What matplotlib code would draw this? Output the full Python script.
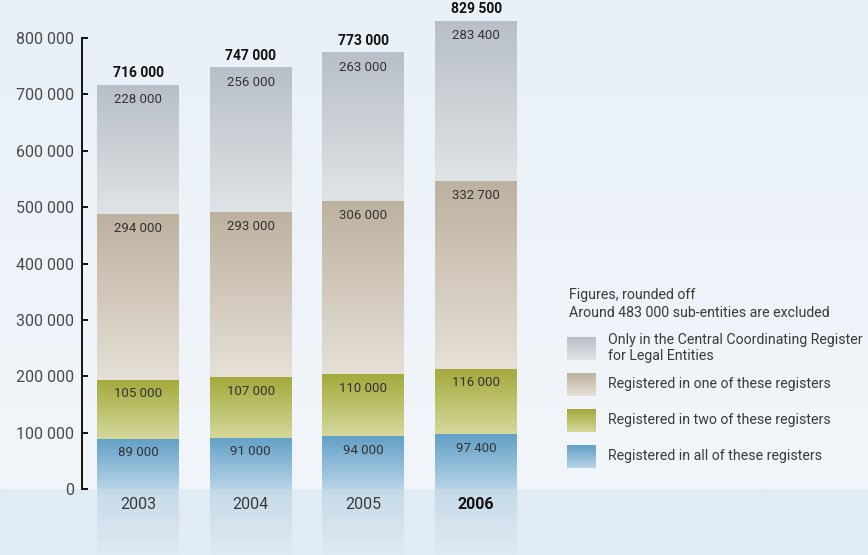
import matplotlib
matplotlib.use('Agg')
import matplotlib.pyplot as plt
import numpy as np
from matplotlib.colors import to_rgb

plt.rcParams['font.family'] = ['Roboto', 'DejaVu Sans']

years = ['2003', '2004', '2005', '2006']
in_all = [89000, 91000, 94000, 97400]
in_two = [105000, 107000, 110000, 116000]
in_one = [294000, 293000, 306000, 332700]
only_ccr = [228000, 256000, 263000, 283400]
totals = [716000, 747000, 773000, 829500]

series_labels = [
    'Registered in all of these registers',
    'Registered in two of these registers',
    'Registered in one of these registers',
    'Only in the Central Coordinating Register\nfor Legal Entities',
]
series_values = [in_all, in_two, in_one, only_ccr]
# (top colour, bottom colour) of each vertical gradient
series_colors = [
    ('#62a0c6', '#b7d4e6'),
    ('#a3a93a', '#d5d89c'),
    ('#bdb19f', '#e6e0d7'),
    ('#b8bfc7', '#e0e3e6'),
]

W, H = 868, 555


def gradient(top, bottom, n=256):
    t = np.linspace(0, 1, n)[:, None]
    c = (1 - t) * np.array(to_rgb(top)) + t * np.array(to_rgb(bottom))
    return c[:, None, :]


def fmt(v):
    return f'{v:,}'.replace(',', ' ')


fig = plt.figure(figsize=(W / 100, H / 100), dpi=100)

# background layer in pixel coordinates
bg = fig.add_axes([0, 0, 1, 1], zorder=0)
bg.axis('off')
bg.imshow(gradient('#e8f0f8', '#f2f6fa'), extent=(0, W, 489, 0), aspect='auto', origin='upper')
bg.imshow(gradient('#e1ebf4', '#e3edf5'), extent=(0, W, H, 489), aspect='auto', origin='upper')
bg.set_xlim(0, W)
bg.set_ylim(H, 0)

x = np.arange(len(years))
bar_w = 0.727
xlim = (-0.497, 6.478)

# band below the axis with faded bar columns and year labels
band = fig.add_axes([82 / W, 0, 786 / W, 66 / H], zorder=1)
band.axis('off')
for i, yr in enumerate(years):
    band.imshow(gradient('#c5dae8', '#e0eaf3'),
                extent=(x[i] - bar_w / 2, x[i] + bar_w / 2, 0, 1),
                aspect='auto', origin='upper')
    band.text(x[i], 0.758, yr, ha='center', va='center', fontsize=11.5,
              color='#111111' if yr == '2006' else '#3a3a3a',
              fontweight='bold' if yr == '2006' else 'normal')
band.set_xlim(*xlim)
band.set_ylim(0, 1)

# main chart
ax = fig.add_axes([82 / W, 66 / H, 786 / W, 451 / H], zorder=2)
ax.patch.set_visible(False)
bottom = np.zeros(len(years))
for vals, (c_top, c_bot) in zip(series_values, series_colors):
    bars = ax.bar(x, vals, bar_w, bottom=bottom, facecolor='none', edgecolor='none')
    for b, v, b0 in zip(bars, vals, bottom):
        im = ax.imshow(gradient(c_top, c_bot),
                       extent=(b.get_x(), b.get_x() + b.get_width(), b0, b0 + v),
                       aspect='auto', origin='upper')
        im.set_clip_on(False)
        ax.annotate(fmt(v), (b.get_x() + b.get_width() / 2, b0 + v),
                    xytext=(0, -10.2), textcoords='offset points',
                    ha='center', va='center', fontsize=9.5, color='#333333',
                    annotation_clip=False)
    bottom = bottom + np.array(vals)

for i, t in enumerate(totals):
    ax.annotate(fmt(t), (x[i], t), xytext=(0, 8.8), textcoords='offset points',
                ha='center', va='center', fontsize=10, fontweight='bold',
                color='#111111', annotation_clip=False)

ax.set_xlim(*xlim)
ax.set_ylim(0, 800000)
ax.set_yticks(np.arange(0, 800001, 100000))
ax.set_yticklabels([fmt(v) for v in range(0, 800001, 100000)])
ax.set_xticks([])
for s in ['top', 'right', 'bottom']:
    ax.spines[s].set_visible(False)
ax.spines['left'].set_linewidth(1.3)
ax.tick_params(axis='y', direction='in', length=4.6, width=1.3,
               pad=5.8, labelsize=11.5, labelcolor='#4a4a4a')

# legend drawn in pixel coordinates
lg = fig.add_axes([0, 0, 1, 1], zorder=3)
lg.patch.set_visible(False)
lg.axis('off')
lg.text(569, 295, 'Figures, rounded off', fontsize=10.2, color='#3a3a3a', va='center')
lg.text(569, 313, 'Around 483 000 sub-entities are excluded', fontsize=10.2,
        color='#3a3a3a', va='center')
patch_tops = [445, 409, 373, 337]
text_y = [456, 420, 384, 348]
for lab, (c_top, c_bot), pt, ty in zip(series_labels, series_colors, patch_tops, text_y):
    lg.imshow(gradient(c_top, c_bot), extent=(567, 596, pt + 23, pt),
              aspect='auto', origin='upper')
    lg.text(608, ty, lab, fontsize=10.2, color='#3a3a3a', va='center',
            linespacing=1.15)
lg.set_xlim(0, W)
lg.set_ylim(H, 0)

fig.savefig('out.png', dpi=100)
